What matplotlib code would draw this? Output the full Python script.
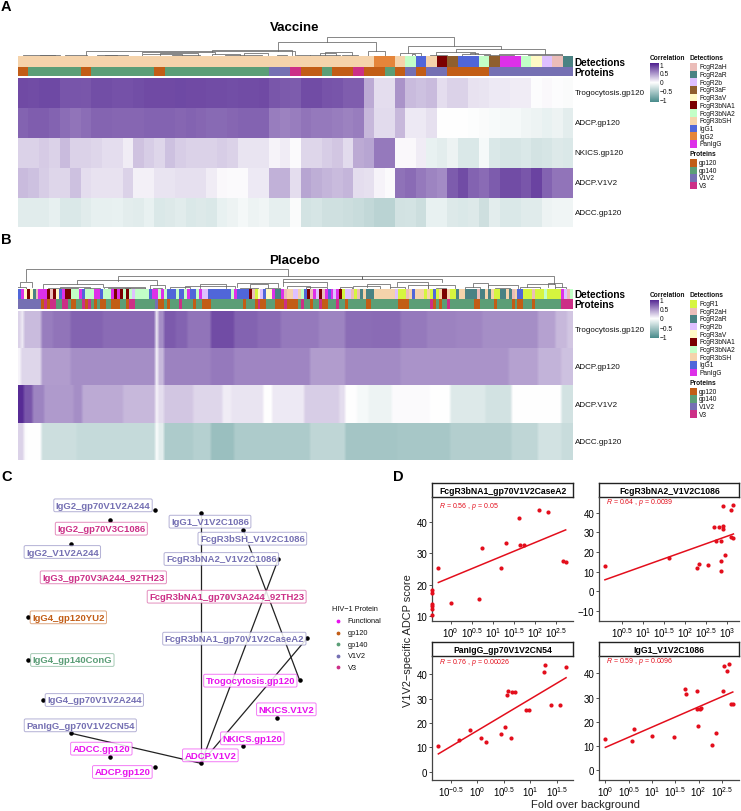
import numpy as np
import matplotlib
matplotlib.use("Agg")
import matplotlib.pyplot as plt
from matplotlib.colors import LinearSegmentedColormap, ListedColormap, to_rgba

plt.rcParams["font.family"] = ["Liberation Sans", "DejaVu Sans"]
plt.rcParams["mathtext.fontset"] = "custom"
plt.rcParams["mathtext.rm"] = "Liberation Sans"
plt.rcParams["mathtext.it"] = "Liberation Sans:italic"
plt.rcParams["mathtext.bf"] = "Liberation Sans:bold"
plt.rcParams["mathtext.default"] = "regular"

W, H = 741, 812

# Colours of the annotation categories
DETECTION_COLORS = {
    "FcgR1": "#D6F53F", "FcgR2aH": "#EBBDB9", "FcgR2aR": "#4A8283", "FcgR2b": "#DEC0FF",
    "FcgR3aF": "#8F5F2E", "FcgR3aV": "#FFFAC5", "FcgR3bNA1": "#7B0000", "FcgR3bNA2": "#C2FFC7",
    "FcgR3bSH": "#F5D3AB", "IgG1": "#5066D9", "IgG2": "#E5853A", "PanIgG": "#DD30E8",
}
PROTEIN_COLORS = {"gp120": "#C25D16", "gp140": "#5B9E77", "V1V2": "#7570B3", "V3": "#CC2F87"}
FUNCTIONAL_COLOR = "#E810EE"
RED = "#E30E1C"
corr_cmap = LinearSegmentedColormap.from_list("corr", ["#4A8C8C", "#FFFFFF", "#4F2190"])

# Panel A: vaccine heatmap, one value per column
vaccine_rows = ["Trogocytosis.gp120", "ADCP.gp120", "NKICS.gp120", "ADCP.V1V2", "ADCC.gp120"]
vaccine_trog = [.81, .80, .82, .82, .76, .76, .75, .79, .79, .78, .78, .79, .81, .81, .81, .82, .81, .81,
                .80, .80, .79, .80, .80, .81, .75, .74, .73, .80, .80, .77, .76, .72, .72, .38, .15, .15,
                .48, .30, .28, .30, .15, .20, .20, .13, .12, .10, .10, .08, .08, .01, .03, .01, -.03]
vaccine_adcp_gp120 = [.70, .72, .72, .70, .65, .62, .65, .69, .69, .68, .68, .68, .70, .70, .70, .68, .70, .68,
                      .67, .67, .68, .70, .70, .70, .58, .56, .58, .62, .60, .60, .58, .56, .58, .32, .16, .16,
                      .32, .10, .10, .14, 0, 0, 0, -.01, -.03, -.04, -.05, -.05, -.08, -.10, -.12, -.10, -.15]
vaccine_nkics = [.20, .20, .23, .20, .30, .20, .20, .18, .15, .15, .08, .27, .22, .18, .28, .22, .20, .20,
                 .20, .22, .20, .12, .12, .12, .05, .08, .02, .18, .18, .22, .25, .16, .38, .40, .60, .60,
                 .03, .03, .08, -.12, -.15, -.10, -.20, -.20, -.05, -.20, -.22, -.22, -.20, -.24, -.22, -.18, -.20]
vaccine_adcp_v1v2 = [.30, .28, .22, .18, .18, .28, .15, .13, .13, .13, .20, .07, .07, .12, .12, .14, .14, .14,
                     .08, .03, .02, .02, .10, .10, .35, .35, .15, .40, .36, .33, .30, .33, .15, .14, .05, .02,
                     .63, .66, .60, .55, .52, .73, .80, .70, .66, .73, .80, .80, .75, .84, .70, .62, .62]
vaccine_adcc = [-.16, -.16, -.16, -.13, -.20, -.20, -.16, -.13, -.13, -.12, -.15, -.16, -.12, -.20, -.18, -.16, -.20, -.18,
                -.20, -.12, -.10, -.06, -.10, -.08, -.14, -.14, -.03, -.24, -.22, -.26, -.26, -.28, -.30, -.33, -.38, -.38,
                -.25, -.24, -.28, -.12, -.12, -.18, -.20, -.18, -.27, -.15, -.20, -.20, -.17, -.17, -.10, -.08, -.08]
vaccine_detections = [("FcgR3bSH", 34), ("IgG2", 2), ("FcgR3bSH", 1), ("FcgR3bNA2", 1), ("IgG1", 1), ("FcgR3bSH", 1),
                      ("FcgR3bNA1", 1), ("FcgR3aF", 1), ("IgG1", 2), ("FcgR3bNA2", 1), ("FcgR3aF", 1), ("PanIgG", 2),
                      ("FcgR3bNA2", 1), ("FcgR3aV", 1), ("FcgR2b", 1), ("FcgR2aH", 1), ("FcgR2aR", 1)]
vaccine_proteins = [("gp120", 1), ("gp140", 5), ("gp120", 1), ("gp140", 6), ("gp120", 1), ("gp140", 10), ("V1V2", 2),
                    ("V3", 1), ("gp120", 2), ("gp140", 1), ("gp120", 2), ("V3", 1), ("gp120", 2), ("gp140", 1),
                    ("gp120", 1), ("V1V2", 1), ("gp120", 1), ("V1V2", 2), ("gp120", 4), ("V1V2", 8)]
# tree brackets: left, right, top height, left foot height, right foot height
vaccine_tree = [
    (327, 454, 19.7, 14.3, 10.3), (278, 376, 14.3, 5.5, 5.7), (368, 385, 5.7, 0, 0),
    (408, 501, 10.3, 3.7, 7.3), (400, 421, 3.7, 0, 0), (412, 415, 2.3, 0, 0),
    (456, 545, 7.3, 4.7, 2.5), (436, 475, 4.7, 1.5, 2), (430, 447, 1.5, 0, 0), (462, 490, 2, 0, 0),
    (470, 478, 3.3, 2, 2), (499, 562, 2.5, 1, 1), (484, 514, 1.3, 0, 0), (528, 562, 1.5, 0, 0), (540, 555, .7, 0, 0),
    (86, 295, 5.5, 1, 0), (212, 292, 5.9, 4.7, 1.5), (142, 215, 4.7, 3, 2), (23, 55, 1.5, 0, 0), (40, 60, 1.2, 0, 0),
    (65, 87, 1, 0, 0), (97, 117, .9, 0, 0), (105, 128, 1.1, 0, 0), (142, 182, 2, 0, 0), (160, 198, 3.4, 1, 1),
    (172, 200, 1.6, 0, 0), (212, 240, 2.4, 0, 0), (225, 262, 1.2, 0, 0), (244, 268, 3.4, 1, 1), (277, 287, 1.2, 0, 0),
    (310, 340, 1.4, 0, 0), (325, 352, 4, 1, 1), (342, 358, 1.5, 0, 0), (296, 310, 1, 0, 0), (320, 336, 3, 1, 1),
]

# Panel B: placebo heatmap, runs of (value, number of columns)
placebo_rows = ["Trogocytosis.gp120", "ADCP.gp120", "ADCP.V1V2", "ADCC.gp120"]
placebo_trog = [(.2, 1), (.1, 1), (.3, 6), (.58, 4), (.62, 6), (.7, 11), (.66, 18), (.1, 1), (.5, 2), (.74, 4), (.7, 4),
                (.62, 8), (.8, 8), (.7, 8), (.66, 8), (.6, 13), (.55, 9), (.65, 9), (.66, 10), (.6, 9), (.56, 10),
                (.54, 9), (.5, 9), (.5, 10), (.42, 6), (.32, 4), (.25, 2)]
placebo_adcp_gp120 = [(.05, 1), (.18, 7), (.44, 10), (.5, 29), (.05, 1), (.32, 2), (.56, 16), (.6, 8), (.54, 26), (.44, 12),
                      (.52, 19), (.48, 37), (.42, 10), (.34, 8), (.28, 4)]
placebo_adcp_v1v2 = [(.95, 2), (.75, 3), (.55, 4), (.45, 10), (.5, 3), (.38, 14), (.32, 11), (.05, 1), (.15, 2), (.25, 10),
                     (.18, 10), (.08, 3), (.12, 11), (0, 3), (.1, 11), (.22, 12), (.15, 2), (0, 4), (-.05, 4), (-.1, 8),
                     (.02, 13), (0, 7), (-.18, 12), (-.25, 9), (0, 17), (-.25, 4)]
placebo_adcc = [(.2, 2), (.02, 1), (0, 5), (-.28, 12), (-.32, 27), (-.03, 1), (-.15, 2), (-.45, 10), (-.4, 6), (-.55, 8),
                (-.45, 26), (-.35, 12), (-.5, 18), (-.48, 18), (-.42, 21), (-.35, 9), (-.25, 8), (-.3, 4)]
placebo_detections = [
    ("IgG1", 1), ("PanIgG", 1), ("FcgR3aV", 1), ("FcgR3bNA1", 1), ("FcgR3aV", 1), ("FcgR2aR", 1), ("FcgR2aH", 1),
    ("PanIgG", 3), ("FcgR3bNA1", 1), ("FcgR2aH", 1), ("FcgR3bNA1", 1), ("FcgR3aV", 1), ("IgG1", 1), ("PanIgG", 1),
    ("FcgR3bNA1", 2), ("FcgR3bNA2", 3), ("PanIgG", 1), ("IgG1", 1), ("FcgR3bNA2", 3), ("PanIgG", 2), ("IgG1", 1),
    ("FcgR3bNA2", 3), ("PanIgG", 1), ("FcgR3bNA1", 1), ("PanIgG", 1), ("FcgR3bNA1", 1), ("FcgR3bNA2", 1),
    ("FcgR3bNA1", 1), ("FcgR3bNA2", 1), ("FcgR2b", 1), ("FcgR3bNA2", 5), ("IgG1", 1), ("PanIgG", 2), ("FcgR3bNA2", 1),
    ("PanIgG", 1), ("FcgR3bNA2", 1), ("IgG1", 3), ("FcgR3bNA2", 1), ("IgG1", 2), ("FcgR3bNA2", 1), ("PanIgG", 1),
    ("IgG1", 2), ("FcgR3bNA2", 1), ("PanIgG", 1), ("FcgR2b", 2),
    ("IgG1", 8), ("FcgR3bNA2", 1), ("PanIgG", 1), ("IgG1", 4), ("FcgR3bNA1", 1), ("FcgR2aH", 1), ("FcgR1", 1),
    ("FcgR3aV", 1), ("FcgR2b", 1), ("IgG1", 1), ("FcgR3aV", 2), ("PanIgG", 1), ("FcgR2aR", 2), ("PanIgG", 1),
    ("FcgR2aH", 1), ("FcgR3bSH", 2), ("FcgR2b", 2), ("FcgR3bSH", 1), ("FcgR3bNA2", 1), ("IgG1", 1), ("FcgR3bNA1", 1),
    ("FcgR2aH", 1), ("PanIgG", 1), ("FcgR2b", 1), ("FcgR3bNA1", 1), ("FcgR2aH", 1), ("PanIgG", 1), ("IgG1", 1),
    ("PanIgG", 1), ("FcgR2b", 1), ("PanIgG", 1), ("FcgR3bNA1", 1), ("FcgR1", 1), ("FcgR2b", 2), ("FcgR2aH", 1),
    ("FcgR1", 1), ("FcgR2aH", 1), ("FcgR2aR", 1), ("FcgR3bSH", 1), ("FcgR2aR", 3), ("FcgR3bSH", 7),
    ("FcgR2b", 1), ("FcgR1", 3), ("FcgR2aH", 1), ("FcgR3bSH", 1), ("IgG1", 1), ("FcgR3bSH", 3), ("FcgR1", 1),
    ("FcgR3bSH", 1), ("FcgR1", 1), ("IgG1", 1), ("FcgR1", 1), ("FcgR3bSH", 1), ("FcgR3bNA1", 2), ("FcgR3bSH", 1),
    ("FcgR1", 2), ("FcgR2aR", 1), ("FcgR3bSH", 2), ("FcgR2aR", 4), ("FcgR2aH", 1), ("FcgR2aR", 2), ("FcgR3bSH", 1),
    ("FcgR2aR", 1), ("FcgR3bSH", 1), ("FcgR1", 2), ("FcgR2aR", 2), ("FcgR3bSH", 1), ("FcgR2aR", 1), ("FcgR2aH", 1),
    ("FcgR3bSH", 1), ("IgG1", 2), ("FcgR1", 3), ("FcgR2aH", 1), ("FcgR1", 3), ("FcgR3bNA2", 1), ("FcgR1", 5),
    ("PanIgG", 1), ("FcgR2b", 1), ("FcgR2aH", 1), ("FcgR3bNA2", 1),
]
placebo_proteins = [
    ("V1V2", 8), ("gp120", 1), ("V3", 1), ("gp120", 1), ("V3", 2), ("gp140", 2), ("V3", 2), ("gp140", 1), ("gp120", 2),
    ("gp140", 2), ("V3", 1), ("gp120", 1), ("V3", 1), ("gp140", 1), ("gp120", 1), ("gp140", 1), ("gp120", 2), ("gp140", 2),
    ("gp120", 3), ("gp140", 2), ("gp120", 1), ("V3", 2), ("gp140", 7), ("V1V2", 1), ("gp120", 2), ("gp140", 1), ("gp120", 1),
    ("gp140", 3), ("V3", 1), ("gp140", 4), ("gp120", 1), ("gp140", 2), ("gp120", 3), ("gp140", 11), ("gp120", 1), ("gp140", 3),
    ("gp120", 1), ("V3", 1), ("gp120", 2), ("gp140", 3), ("gp120", 3), ("V3", 1), ("gp120", 4), ("gp140", 1), ("V3", 1),
    ("gp140", 2), ("gp120", 1), ("gp140", 2), ("V3", 1), ("gp120", 2), ("gp140", 3), ("V3", 1), ("gp140", 2), ("gp120", 1),
    ("gp140", 6), ("gp120", 2), ("gp140", 9), ("gp120", 4), ("gp140", 7), ("V3", 1), ("gp120", 1), ("gp140", 1), ("gp120", 1),
    ("gp140", 2), ("V3", 1), ("gp140", 8), ("gp120", 2), ("gp140", 5), ("gp120", 1), ("gp140", 5), ("gp120", 1), ("gp140", 1),
    ("gp120", 2), ("gp140", 3), ("gp120", 1), ("gp140", 9), ("V3", 4),
]
placebo_tree = [
    (26, 288, 20, 8, 13), (118, 554, 13, 8.3, 5.3), (362, 362, 13, 10, 10), (283, 442, 10, 7.3, 7),
    (20, 32, 7, 2, 2), (17, 26, 2.5, 0, 0), (77, 157, 9, 5, 4), (43, 103, 5, 1.5, 2.5), (104, 145, 2.5, .8, .8),
    (150, 165, 4, 0, 0), (153, 162, 1.2, 0, 0), (48, 78, 1.5, 0, 0), (60, 90, 2.2, .8, .8), (84, 100, 1, 0, 0),
    (108, 130, 1.5, 0, 0), (125, 145, 1, 0, 0), (170, 190, 2, 0, 0), (185, 235, 3.5, 1, 1), (200, 226, 5, 1, 1),
    (237, 278, 6.3, 2, 2), (250, 268, 5, 1, 1), (240, 258, 1.5, 0, 0), (265, 280, 1.2, 0, 0),
    (283, 327, 7.3, 3, 3), (287, 310, 3, 0, 0), (306, 327, 2.5, 0, 0), (353, 380, 3, 0, 0), (367, 390, 5.3, 2, 2),
    (397, 428, 6.7, 3, 4), (390, 405, 2, 0, 0), (408, 428, 4, 1, 1), (428, 455, 3.7, 1, 1), (436, 446, 1.2, 0, 0),
    (473, 488, 6, 2, 2), (465, 480, 2, 0, 0), (488, 518, 4, 1, 1), (495, 510, 1, 0, 0), (527, 555, 5.3, 2.5, 2.5),
    (520, 540, 2.5, 0, 0), (548, 562, 6, 2, 2), (555, 566, 2, 0, 0), (340, 352, 2, 0, 0),
]

# Panel C: network layout, positions
node_names = ["IgG2_gp70V1V2A244", "IgG2_gp70V3C1086", "IgG2_V1V2A244", "IgG3_gp70V3A244_92TH23", "IgG4_gp120YU2",
              "IgG4_gp140ConG", "IgG4_gp70V1V2A244", "PanIgG_gp70V1V2CN54", "ADCC.gp120", "ADCP.gp120", "ADCP.V1V2",
              "NKICS.gp120", "NKICS.V1V2", "Trogocytosis.gp120", "FcgR3bNA1_gp70V1V2CaseA2",
              "FcgR3bNA1_gp70V3A244_92TH23", "FcgR3bSH_V1V2C1086", "IgG1_V1V2C1086", "FcgR3bNA2_V1V2C1086"]
node_groups = ["V1V2", "V3", "V1V2", "V3", "gp120", "gp140", "V1V2", "V1V2", "Functional", "Functional", "Functional",
               "Functional", "Functional", "Functional", "V1V2", "V3", "V1V2", "V1V2", "V1V2"]
node_x = [465, 331, 214, 310, 84, 84, 130, 214, 331, 465, 603, 730, 832, 899, 921, 680, 730, 603, 835]
node_y = [122, 154, 224, 325, 445, 573, 692, 793, 863, 895, 883, 832, 746, 634, 508, 383, 184, 133, 270]
label_x = [309, 304, 187, 310, 205, 217, 283, 241, 304, 367, 631, 757, 859, 751, 703, 680, 757, 630, 664]
label_y = [109, 179, 249, 325, 445, 573, 693, 769, 839, 909, 859, 808, 721, 635, 509, 383, 209, 158, 270]
edges = [("ADCP.V1V2", "IgG1_V1V2C1086"), ("ADCP.V1V2", "FcgR3bNA2_V1V2C1086"),
         ("ADCP.V1V2", "FcgR3bNA1_gp70V1V2CaseA2"), ("ADCP.V1V2", "PanIgG_gp70V1V2CN54"),
         ("Trogocytosis.gp120", "FcgR3bSH_V1V2C1086")]
network_legend = ["Functional", "gp120", "gp140", "V1V2", "V3"]

# Panel D: log10 fold over background and V1V2-specific ADCP score
facet_titles = ["FcgR3bNA1_gp70V1V2CaseA2", "FcgR3bNA2_V1V2C1086", "PanIgG_gp70V1V2CN54", "IgG1_V1V2C1086"]
facet_stats = [("0.56", "0.05"), ("0.64", "0.0039"), ("0.76", "0.00026"), ("0.59", "0.0096")]
logx_a = [-.433, -.433, -.433, -.433, -.433, -.433, -.29, .01, .67, .74, 1.2, 1.32, 1.62, 1.65, 1.73, 2.1, 2.31, 2.66, 2.72]
score_a = [10.4, 12.3, 13.1, 13.8, 17.3, 18.4, 25.3, 14.0, 15.4, 31.7, 25.4, 33.4, 41.3, 32.8, 32.6, 43.8, 43.3, 27.6, 27.4]
logx_b = [.094, 1.615, 2.3, 2.33, 2.55, 2.70, 2.74, 2.81, 2.86, 2.87, 2.87, 2.9, 2.9, 2.92, 2.95, 3.1, 3.11, 3.16, 3.14]
score_b = [13.0, 17.2, 12.1, 14.0, 13.6, 32.7, 25.5, 32.7, 25.5, 15.3, 10.3, 33.2, 31.7, 43.4, 18.4, 41.2, 27.5, 27.3, 43.9]
logx_c = [-.736, -.34, -.14, .07, .157, .447, .516, .635, .566, .572, .66, .717, .918, .975, 1.258, 1.283, 1.396, 1.56, 1.673]
score_c = [10.4, 13.0, 17.3, 14.0, 12.1, 15.3, 18.4, 13.7, 31.6, 33.3, 32.7, 32.6, 25.3, 25.3, 41.1, 43.7, 27.4, 27.4, 43.0]
logx_d = [0, .564, .62, 1.0, 1.464, 1.707, 1.73, 1.97, 1.964, 2.02, 1.986, 2.05, 2.286, 2.37, 2.53, 2.55, 2.607, 2.65, 2.686, 2.73]
score_d = [12.9, 12.1, 17.2, 14.0, 13.7, 33.4, 31.6, 32.6, 25.4, 25.4, 18.3, 25.6, 10.4, 15.3, 32.7, 42.9, 41.0, 43.7, 27.4, 27.4]
fit_logx = [(-.29, 2.72), (.094, 3.16), (-.736, 1.673), (0, 2.73)]
fit_score = [(20.7, 37.5), (5.9, 29.2), (7.3, 38.6), (9.5, 32.3)]
facet_xticks = [[0, .5, 1, 1.5, 2, 2.5], [.5, 1, 1.5, 2, 2.5, 3], [-.5, 0, .5, 1, 1.5], [0, .5, 1, 1.5, 2, 2.5]]
facet_xtick_labels = [["0", "0.5", "1", "1.5", "2", "2.5"], ["0.5", "1", "1.5", "2", "2.5", "3"],
                      ["-0.5", "0", "0.5", "1", "1.5"], ["0", "0.5", "1", "1.5", "2", "2.5"]]
facet_yticks = [[10, 20, 30, 40], [-10, 0, 10, 20, 30, 40], [0, 10, 20, 30, 40], [0, 10, 20, 30, 40]]
facet_xlim = [(-.433, 2.9), (-.04, 3.30), (-.85, 1.81), (-.13, 2.87)]
facet_ylim = [(8.5, 48), (-14.9, 48), (-3.3, 47.4), (-3.8, 47)]


def px_axes(fig, x0, y0, x1, y1):
    # axes placed by pixel box, y measured from the top of the picture
    return fig.add_axes([x0 / W, 1 - y1 / H, (x1 - x0) / W, (y1 - y0) / H])


def expand(runs):
    return np.repeat([r[0] for r in runs], [r[1] for r in runs])


def draw_strip(fig, box, runs, colors):
    ax = px_axes(fig, *box)
    names = list(colors)
    codes = expand([(names.index(n), c) for n, c in runs])
    ax.imshow(codes[None, :], aspect="auto", interpolation="nearest",
              cmap=ListedColormap(list(colors.values())), vmin=0, vmax=len(names) - 1)
    ax.axis("off")


def draw_heatmap(fig, box, rows, labels, interp):
    # one axes per row, so that the smoothing only runs along the columns
    row_h = (box[3] - box[1]) / len(labels)
    for i, lab in enumerate(labels):
        ax = px_axes(fig, box[0], box[1] + i * row_h, box[2], box[1] + (i + 1) * row_h)
        ax.imshow(np.asarray(rows[i])[None, :], aspect="auto", interpolation=interp, cmap=corr_cmap, vmin=-1, vmax=1)
        ax.axis("off")
        fig.text(574.5 / W, 1 - (box[1] + (i + .5) * row_h) / H, lab, fontsize=5.75, va="center", color="#111111")


def draw_tree(fig, box, tree):
    ax = px_axes(fig, *box)
    ax.set_xlim(box[0], box[2])
    ax.set_ylim(0, box[3] - box[1])
    for xl, xr, top, foot_l, foot_r in tree:
        ax.plot([xl, xl, xr, xr], [foot_l, top, top, foot_r], color="#666666", lw=0.55, solid_joinstyle="miter")
    ax.axis("off")


def draw_legends(fig, top, det_names, entry_y0, entry_step, prot_title_y, prot_y0, prot_step, bar_y0, bar_y1, tick_ys):
    txt = lambda x, y, s, **kw: fig.text(x / W, 1 - y / H, s, va="center", color="#111111", **kw)
    txt(650, top, "Correlation", fontsize=4.8, fontweight="bold")
    cax = px_axes(fig, 650, bar_y0, 658.5, bar_y1)
    cax.imshow(np.linspace(1, -1, 100)[:, None], aspect="auto", cmap=corr_cmap, vmin=-1, vmax=1)
    cax.axis("off")
    for y, lab in zip(tick_ys, ["1", "0.5", "0", "\u22120.5", "\u22121"]):
        txt(659.5, y, lab, fontsize=4.8)
    txt(689.5, top, "Detections", fontsize=4.8, fontweight="bold")
    swatch_w = 7
    for i, name in enumerate(det_names):
        y = entry_y0 + i * entry_step
        sw = px_axes(fig, 690, y - entry_step / 2, 690 + swatch_w, y + entry_step / 2)
        sw.set_facecolor(DETECTION_COLORS[name])
        sw.set_xticks([]), sw.set_yticks([])
        for s in sw.spines.values():
            s.set_visible(False)
        txt(699, y, name, fontsize=4.75)
    txt(689.5, prot_title_y, "Proteins", fontsize=4.8, fontweight="bold")
    for i, name in enumerate(PROTEIN_COLORS):
        y = prot_y0 + i * prot_step
        sw = px_axes(fig, 690, y - prot_step / 2, 690 + swatch_w, y + prot_step / 2)
        sw.set_facecolor(PROTEIN_COLORS[name])
        sw.set_xticks([]), sw.set_yticks([])
        for s in sw.spines.values():
            s.set_visible(False)
        txt(699, y, name, fontsize=4.75)


fig = plt.figure(figsize=(W / 100, H / 100), dpi=100)

# Panel letters and titles
for letter, x, y in [("A", 1, 7), ("B", 1, 240), ("C", 1, 477), ("D", 393, 477)]:
    fig.text(x / W, 1 - y / H, letter, fontsize=10.5, fontweight="bold", va="center")
fig.text(295 / W, 1 - 28 / H, "Vaccine", fontsize=9.5, fontweight="bold", ha="center", va="center")
fig.text(295 / W, 1 - 261 / H, "Placebo", fontsize=9.5, fontweight="bold", ha="center", va="center")

# Panel A
draw_tree(fig, (18, 37, 573, 57.3), vaccine_tree)
draw_strip(fig, (18, 57.3, 573, 67.6), vaccine_detections, DETECTION_COLORS)
draw_strip(fig, (18, 68, 573, 77.3), vaccine_proteins, PROTEIN_COLORS)
draw_heatmap(fig, (18, 79, 573, 228.4),
             [vaccine_trog, vaccine_adcp_gp120, vaccine_nkics, vaccine_adcp_v1v2, vaccine_adcc], vaccine_rows, "nearest")
fig.text(574.5 / W, 1 - 62.5 / H, "Detections", fontsize=7.2, fontweight="bold", va="center")
fig.text(574.5 / W, 1 - 72.5 / H, "Proteins", fontsize=7.2, fontweight="bold", va="center")
draw_legends(fig, 59, ["FcgR2aH", "FcgR2aR", "FcgR2b", "FcgR3aF", "FcgR3aV", "FcgR3bNA1", "FcgR3bNA2", "FcgR3bSH",
                       "IgG1", "IgG2", "PanIgG"], 67.7, 7.72, 154.5, 163.7, 7.6, 64, 103,
             [66, 75, 83.5, 92.6, 101.6])

# Panel B
draw_tree(fig, (18, 270, 573, 290), placebo_tree)
draw_strip(fig, (18, 290, 573, 300), placebo_detections, DETECTION_COLORS)
draw_strip(fig, (18, 300.4, 573, 310), placebo_proteins, PROTEIN_COLORS)
draw_heatmap(fig, (18, 311.7, 573, 461),
             [expand(placebo_trog), expand(placebo_adcp_gp120), expand(placebo_adcp_v1v2), expand(placebo_adcc)],
             placebo_rows, "bilinear")
fig.text(574.5 / W, 1 - 295 / H, "Detections", fontsize=7.2, fontweight="bold", va="center")
fig.text(574.5 / W, 1 - 305 / H, "Proteins", fontsize=7.2, fontweight="bold", va="center")
draw_legends(fig, 295.7, ["FcgR1", "FcgR2aH", "FcgR2aR", "FcgR2b", "FcgR3aV", "FcgR3bNA1", "FcgR3bNA2", "FcgR3bSH",
                          "IgG1", "PanIgG"], 304.7, 7.63, 383.7, 392.3, 7.6, 300.7, 339.3,
             [302, 311, 320, 329.3, 338.3])

# Panel C
group_colors = dict(PROTEIN_COLORS, Functional=FUNCTIONAL_COLOR)
ax_net = px_axes(fig, 0, 470, 400, 812)
ax_net.set_xlim(0, 1200)
ax_net.set_ylim(1026, 0)
ax_net.axis("off")
node_index = {n: i for i, n in enumerate(node_names)}
for a, b in edges:
    i, j = node_index[a], node_index[b]
    ax_net.plot([node_x[i], node_x[j]], [node_y[i], node_y[j]], color="#222222", lw=0.9, zorder=1)
ax_net.scatter(node_x, node_y, s=5, color="black", zorder=2)
for name, group, lx, ly in zip(node_names, node_groups, label_x, label_y):
    c = group_colors[group]
    ax_net.text(lx, ly, name, color=c, fontsize=6.8, fontweight="bold", ha="center", va="center", zorder=3,
                bbox=dict(boxstyle="round,pad=0.2,rounding_size=0.15", fc=(1, 1, 1, 0.85), ec=to_rgba(c, 0.55), lw=0.7))
ax_net.text(997, 418, "HIV\u22121 Protein", fontsize=5.3, va="center", color="#111111")
for i, name in enumerate(network_legend):
    y = 456 + i * 34.7
    ax_net.scatter([1015], [y], s=3, color=group_colors[name])
    ax_net.text(1043, y, name, fontsize=5.3, va="center", color="#111111")

# Panel D
facet_boxes = [(432.3, 498, 573.3, 621.7), (599.3, 498, 739.3, 621.7), (432.3, 657.3, 573.3, 780.7), (599.3, 657.3, 739.3, 780.7)]
strip_tops = [484.3, 484.3, 642.7, 642.7]
stat_y = [507, 502.5, 663, 662]
facet_x = [logx_a, logx_b, logx_c, logx_d]
facet_y = [score_a, score_b, score_c, score_d]
for i, box in enumerate(facet_boxes):
    strip = px_axes(fig, box[0], strip_tops[i], box[2], box[1])
    strip.set_xticks([]), strip.set_yticks([])
    for s in strip.spines.values():
        s.set_linewidth(1.0)
        s.set_color("#222222")
    strip.text(.5, .47, facet_titles[i], transform=strip.transAxes, ha="center", va="center", fontsize=6.2, fontweight="bold")

    ax = px_axes(fig, *box)
    ax.set_xscale("log")
    ax.set_xlim(10 ** facet_xlim[i][0], 10 ** facet_xlim[i][1])
    ax.set_ylim(*facet_ylim[i])
    ax.scatter(10 ** np.array(facet_x[i]), facet_y[i], s=9, color=RED, clip_on=False, zorder=3, linewidths=0)
    ax.plot(10 ** np.array(fit_logx[i]), fit_score[i], color=RED, lw=1.1, zorder=2)
    ax.set_xticks(10 ** np.array(facet_xticks[i]))
    ax.set_xticklabels(["$10^{%s}$" % t for t in facet_xtick_labels[i]])
    ax.minorticks_off()
    ax.set_yticks(facet_yticks[i])
    ax.set_yticklabels([str(t).replace("-", "\u2212") for t in facet_yticks[i]])
    ax.tick_params(labelsize=7, length=2, width=0.6, pad=1.5, color="#333333")
    ax.patch.set_alpha(0)
    for side in ("top", "right"):
        ax.spines[side].set_visible(False)
    for side in ("left", "bottom"):
        ax.spines[side].set_linewidth(0.9)
        ax.spines[side].set_color("#444444")
    r_val, p_val = facet_stats[i]
    fig.text((box[0] + 6.5) / W, 1 - stat_y[i] / H, "$\\mathit{R}$ = %s , $\\mathit{p}$ = %s" % (r_val, p_val),
             fontsize=5, color=RED, va="center")

fig.text(408 / W, 1 - 641 / H, "V1V2\u2212specific ADCP score", rotation=90, fontsize=7.9, ha="center", va="center", color="#222222")
fig.text(585 / W, 1 - 805 / H, "Fold over background", fontsize=8.1, ha="center", va="center", color="#222222")

fig.savefig("out.png", dpi=100)
